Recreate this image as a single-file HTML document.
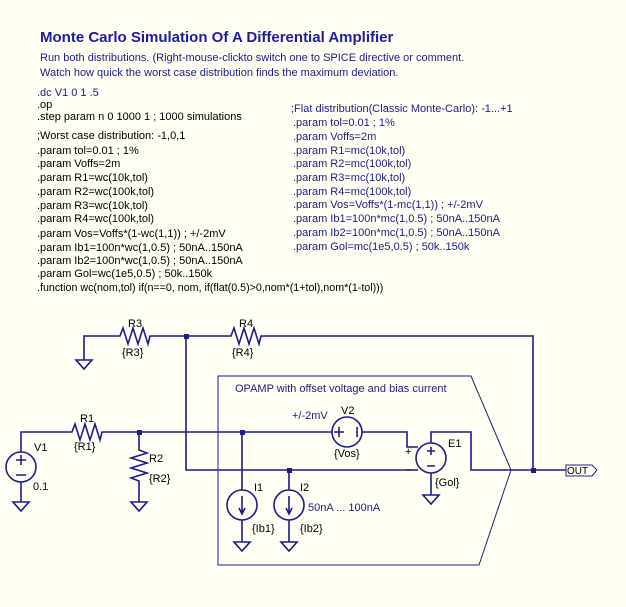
<!DOCTYPE html>
<html><head><meta charset="utf-8"><style>
html,body{margin:0;padding:0;background:#fffff4;}
svg{display:block;}
text{font-family:"Liberation Sans",Arial,sans-serif;}
.b{fill:#000;font-size:11px;}
.n{fill:#1c1c8a;font-size:11px;}
.w{stroke:#1c1c8a;stroke-width:1.6;fill:none;}
.t{stroke:#1c1c8a;stroke-width:1;fill:none;}
</style></head><body>
<svg width="626" height="607" viewBox="0 0 626 607" xmlns="http://www.w3.org/2000/svg">
<rect width="626" height="607" fill="#fffff4"/>
<text x="40" y="42" style="font-size:15px;font-weight:bold;fill:#1c1ca0">Monte Carlo Simulation Of A Differential Amplifier</text>
<text x="40" y="61" class="n">Run both distributions. (Right-mouse-clickto switch one to SPICE directive or comment.</text>
<text x="40" y="76" class="n">Watch how quick the worst case distribution finds the maximum deviation.</text>

<g class="b">
<text x="37" y="96" class="n">.dc V1 0 1 .5</text>
<text x="37" y="108">.op</text>
<text x="37" y="120">.step param n 0 1000 1  ; 1000 simulations</text>
<text x="37" y="139">;Worst case distribution: -1,0,1</text>
<text x="37" y="154">.param tol=0.01 ; 1%</text>
<text x="37" y="167">.param Voffs=2m</text>
<text x="37" y="181">.param R1=wc(10k,tol)</text>
<text x="37" y="195">.param R2=wc(100k,tol)</text>
<text x="37" y="209">.param R3=wc(10k,tol)</text>
<text x="37" y="222">.param R4=wc(100k,tol)</text>
<text x="37" y="237">.param Vos=Voffs*(1-wc(1,1)) ; +/-2mV</text>
<text x="37" y="251">.param Ib1=100n*wc(1,0.5) ; 50nA..150nA</text>
<text x="37" y="264">.param Ib2=100n*wc(1,0.5) ; 50nA..150nA</text>
<text x="37" y="277">.param Gol=wc(1e5,0.5) ; 50k..150k</text>
<text x="37" y="291" style="font-size:10.7px">.function wc(nom,tol) if(n==0, nom, if(flat(0.5)&gt;0,nom*(1+tol),nom*(1-tol)))</text>
</g>
<g class="n">
<text x="291" y="112">;Flat distribution(Classic Monte-Carlo): -1...+1</text>
<text x="293" y="126">.param tol=0.01 ; 1%</text>
<text x="293" y="140">.param Voffs=2m</text>
<text x="293" y="154">.param R1=mc(10k,tol)</text>
<text x="293" y="167">.param R2=mc(100k,tol)</text>
<text x="293" y="181">.param R3=mc(10k,tol)</text>
<text x="293" y="195">.param R4=mc(100k,tol)</text>
<text x="293" y="208">.param Vos=Voffs*(1-mc(1,1)) ; +/-2mV</text>
<text x="293" y="222">.param Ib1=100n*mc(1,0.5) ; 50nA..150nA</text>
<text x="293" y="236">.param Ib2=100n*mc(1,0.5) ; 50nA..150nA</text>
<text x="293" y="250">.param Gol=mc(1e5,0.5) ; 50k..150k</text>
</g>

<path class="t" d="M218,376 H471 L511,470 L479,565 H218 Z"/>
<text x="235" y="392" class="n">OPAMP with offset voltage and bias current</text>

<path class="w" d="M84,360 V336 H120 l3,-8 l5,16 l5,-16 l5,16 l5,-16 l5,16 l2,-8 H231 l3,-8 l5,16 l5,-16 l5,16 l5,-16 l5,16 l2,-8 H533 V470"/>
<path class="w" d="M186,336 V470 H418"/>
<path class="w" d="M21,452 V432 H72 l3,-8 l5,16 l5,-16 l5,16 l5,-16 l5,16 l2,-8 H332"/>
<path class="w" d="M362,432 H407 V447 H418"/>
<path class="w" d="M139,432 V450 l8,3 l-16,5 l16,5 l-16,5 l16,5 l-16,5 l8,3 V502"/>
<circle class="w" cx="21" cy="467" r="15"/>
<path class="w" d="M21,482 V502 M21,455 V465 M16,460 H26 M16,475 H26"/>
<circle class="w" cx="347" cy="432" r="15"/>
<path class="w" d="M334,432 H344 M339,427 V437 M357,427 V437"/>
<circle class="w" cx="431" cy="458" r="15"/>
<path class="w" d="M431,443 V432 H471 V470 H566 M431,473 V495 M427,451 H435 M431,447 V455 M427,466 H435"/>
<text x="405" y="455" class="b">+</text>
<path d="M406,470 H411" stroke="#000" stroke-width="1"/>
<path class="w" d="M242,432 V490 M242,520 V542 M289,470 V490 M289,520 V542"/>
<circle class="w" cx="242" cy="505" r="15"/>
<circle class="w" cx="289" cy="505" r="15"/>
<path class="w" d="M242,496 V513 M239,508 L242,514 L245,508 M289,496 V513 M286,508 L289,514 L292,508"/>
<g class="w">
<path d="M76,360 H92 L84,369 Z"/>
<path d="M13,502 H29 L21,511 Z"/>
<path d="M131,502 H147 L139,511 Z"/>
<path d="M234,542 H250 L242,551 Z"/>
<path d="M281,542 H297 L289,551 Z"/>
<path d="M423,495 H439 L431,504 Z"/>
</g>
<g fill="#1c1c8a">
<rect x="184" y="334" width="5" height="5"/>
<rect x="531" y="468" width="5" height="5"/>
<rect x="137" y="430" width="5" height="5"/>
<rect x="240" y="430" width="5" height="5"/>
<rect x="287" y="468" width="5" height="5"/>
</g>
<path class="t" d="M566,465 H592 L597,470 L592,476 H566 Z"/>
<text x="567" y="474" class="b" style="font-size:10px">OUT</text>

<g class="b">
<text x="128" y="327">R3</text><text x="122" y="356">{R3}</text>
<text x="239" y="327">R4</text><text x="232" y="356">{R4}</text>
<text x="80" y="422">R1</text><text x="74" y="450">{R1}</text>
<text x="34" y="451">V1</text><text x="33" y="490">0.1</text>
<text x="149" y="462">R2</text><text x="149" y="482">{R2}</text>
<text x="254" y="491">I1</text><text x="252" y="532">{Ib1}</text>
<text x="300" y="491">I2</text><text x="300" y="532">{Ib2}</text>
<text x="341" y="414">V2</text><text x="334" y="457">{Vos}</text>
<text x="448" y="447">E1</text><text x="435" y="486">{Gol}</text>
</g>
<text x="292" y="419" class="n">+/-2mV</text>
<text x="308" y="511" class="n">50nA ... 100nA</text>
</svg>
</body></html>
